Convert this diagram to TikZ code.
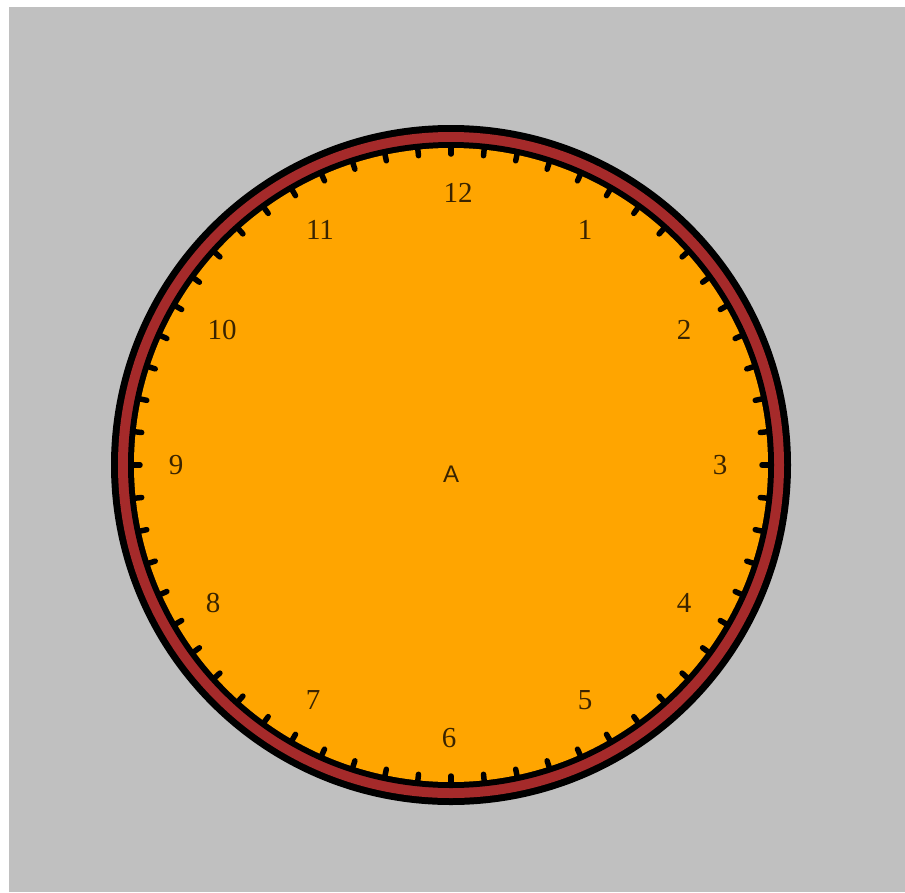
\documentclass[tikz,border=0pt]{standalone}
\usepackage{fontspec}
\usetikzlibrary{calc}
\setmainfont{Liberation Serif}
\newfontfamily\labfont{Liberation Sans}
\definecolor{bgGray}{HTML}{C0C0C0}
\definecolor{faceOrange}{HTML}{FFA500}
\definecolor{ringRed}{HTML}{A52A2A}
\definecolor{numInk}{HTML}{3A2400}
\begin{document}
\begin{tikzpicture}[x=1pt,y=-1pt,
  numlab/.style={font=\fontsize{29}{29}\selectfont, text=numInk, inner sep=0pt},
  ticklab/.style={line width=5.5pt, black, line cap=round}]
\useasboundingbox (0,0) rectangle (905,892);
\fill[white] (0,0) rectangle (905,892);
\fill[bgGray] (9,7) rectangle (905,892);
\coordinate (C) at (451,465);
\fill[black] (C) circle (340);
\fill[ringRed] (C) circle (333);
\fill[black] (C) circle (323);
\fill[faceOrange] (C) circle (317);
\foreach \i in {0,...,59} {
  \draw[ticklab] ($(C)+(90-\i*6:318)$) -- ($(C)+(90-\i*6:311)$);
}
\node[numlab] (n12) at (458,193) {12};
\node[numlab] (n1) at (585,230) {1};
\node[numlab] (n2) at (684,330) {2};
\node[numlab] (n3) at (720,465) {3};
\node[numlab] (n4) at (684,603) {4};
\node[numlab] (n5) at (585,700) {5};
\node[numlab] (n6) at (449,738) {6};
\node[numlab] (n7) at (313,700) {7};
\node[numlab] (n8) at (213,603) {8};
\node[numlab] (n9) at (176,465) {9};
\node[numlab] (n10) at (222,330) {10};
\node[numlab] (n11) at (320,230) {11};
\node[font=\labfont\fontsize{24}{24}\selectfont, text=numInk, inner sep=0pt] (ctr) at (451,474) {A};
\end{tikzpicture}
\end{document}
